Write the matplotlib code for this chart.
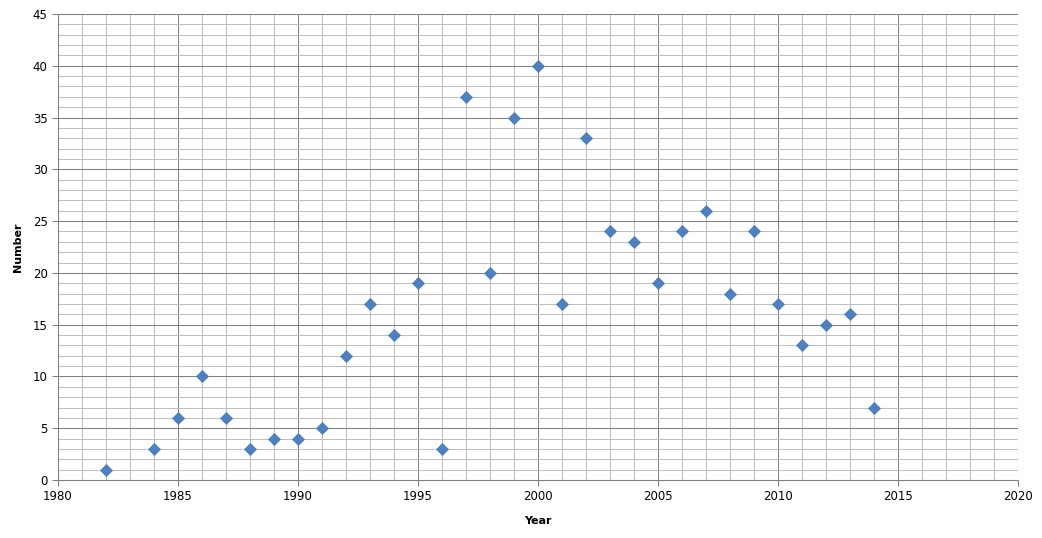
import numpy as np
import matplotlib.pyplot as plt
from matplotlib.ticker import MultipleLocator

years = [1982, 1984, 1985, 1986, 1987, 1988, 1989, 1990, 1991, 1992, 1993,
         1994, 1995, 1996, 1997, 1998, 1999, 2000, 2001, 2002, 2003, 2004,
         2005, 2006, 2007, 2008, 2009, 2010, 2011, 2012, 2013, 2014]
numbers = [1, 3, 6, 10, 6, 3, 4, 4, 5, 12, 17,
           14, 19, 3, 37, 20, 35, 40, 17, 33, 24, 23,
           19, 24, 26, 18, 24, 17, 13, 15, 16, 7]

fig = plt.figure(figsize=(10.42, 5.38), dpi=100)
ax = fig.add_axes([58 / 1042, 1 - 480 / 538, 960 / 1042, 466 / 538])

ax.scatter(years, numbers, marker="D", s=38, color="#4F81BD",
           edgecolors="#4A7EBB", linewidths=0.5, zorder=3)

ax.set_xlim(1980, 2020)
ax.set_ylim(0, 45)
ax.xaxis.set_major_locator(MultipleLocator(5))
ax.xaxis.set_minor_locator(MultipleLocator(1))
ax.yaxis.set_major_locator(MultipleLocator(5))
ax.yaxis.set_minor_locator(MultipleLocator(1))

ax.grid(which="major", color="#808080", linewidth=0.75)
ax.grid(which="minor", color="#BFBFBF", linewidth=0.75)
ax.set_axisbelow(True)

for s in ["top", "right"]:
    ax.spines[s].set_visible(False)
for s in ["left", "bottom"]:
    ax.spines[s].set_color("#808080")
    ax.spines[s].set_linewidth(0.75)

ax.tick_params(which="major", length=4, width=0.75, color="#808080",
               labelsize=8.5)
ax.tick_params(which="minor", length=0)

ax.set_xlabel("Year", fontsize=8, fontweight="bold", labelpad=9)
ax.set_ylabel("Number", fontsize=8, fontweight="bold", labelpad=7)

plt.savefig("out.png")
